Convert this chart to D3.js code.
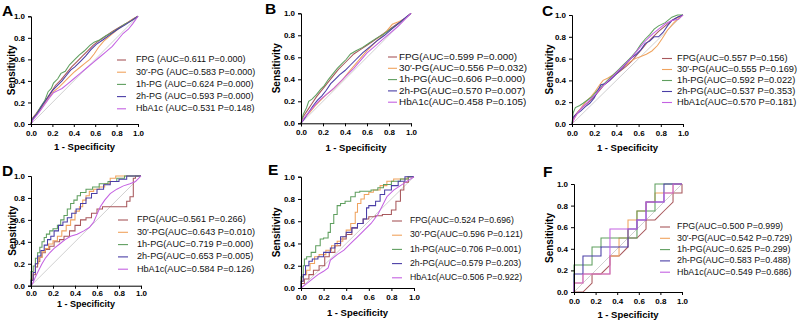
<!DOCTYPE html>
<html><head><meta charset="utf-8">
<script src="https://cdn.jsdelivr.net/npm/d3@7"></script>
<style>body{margin:0;background:#fff} svg{display:block;font-family:"Liberation Sans",Arial,sans-serif}</style>
</head><body><svg id="c" width="800" height="323"></svg>
<script>
const seriesNames = ["FPG","30′-PG","1h-PG","2h-PG","HbA1c"];
const seriesColors = ["#a8585c","#f0a35e","#5f9f5f","#4a3ea6","#c462e2"];
const panelLetters = ["A","B","C","D","E","F"];
const tickValues = [0,0.2,0.4,0.6,0.8,1.0];

const aucA = ["0.611","0.583","0.624","0.593","0.531"], pA = ["0.000","0.000","0.000","0.000","0.148"];
const aucB = ["0.599","0.556","0.606","0.570","0.458"], pB = ["0.000","0.032","0.000","0.007","0.105"];
const aucC = ["0.557","0.555","0.592","0.537","0.570"], pC = ["0.156","0.169","0.022","0.353","0.181"];
const aucD = ["0.561","0.643","0.719","0.653","0.584"], pD = ["0.266","0.010","0.000","0.005","0.126"];
const aucE = ["0.524","0.596","0.706","0.579","0.506"], pE = ["0.696","0.121","0.001","0.203","0.922"];
const aucF = ["0.500","0.542","0.625","0.583","0.549"], pF = ["0.999","0.729","0.299","0.488","0.686"];

// ROC curves: [1 - specificity, sensitivity]
const A_FPG = [[0,0],[0.01,0.05],[0.05,0.10],[0.10,0.17],[0.15,0.24],[0.19,0.30],[0.23,0.36],[0.28,0.41],[0.33,0.47],[0.38,0.53],[0.43,0.58],[0.48,0.63],[0.53,0.68],[0.58,0.73],[0.63,0.77],[0.69,0.81],[0.76,0.86],[0.83,0.90],[0.90,0.94],[0.96,0.98],[1,1]];
const A_30 = [[0,0],[0.02,0.05],[0.07,0.11],[0.12,0.18],[0.17,0.25],[0.21,0.30],[0.26,0.34],[0.30,0.38],[0.35,0.43],[0.40,0.48],[0.45,0.52],[0.50,0.56],[0.55,0.60],[0.59,0.65],[0.63,0.71],[0.68,0.77],[0.74,0.82],[0.80,0.87],[0.87,0.92],[0.93,0.96],[1,1]];
const A_1h = [[0,0],[0.01,0.04],[0.05,0.09],[0.09,0.16],[0.13,0.22],[0.16,0.30],[0.19,0.33],[0.21,0.38],[0.25,0.42],[0.28,0.47],[0.32,0.49],[0.36,0.55],[0.41,0.60],[0.45,0.64],[0.50,0.68],[0.55,0.73],[0.59,0.76],[0.64,0.78],[0.70,0.82],[0.76,0.85],[0.82,0.89],[0.88,0.93],[0.94,0.96],[1,1]];
const A_2h = [[0,0],[0.02,0.05],[0.06,0.10],[0.11,0.18],[0.16,0.25],[0.20,0.31],[0.25,0.36],[0.29,0.40],[0.33,0.45],[0.37,0.50],[0.41,0.53],[0.46,0.58],[0.51,0.63],[0.56,0.69],[0.61,0.74],[0.67,0.78],[0.74,0.83],[0.81,0.88],[0.88,0.92],[0.94,0.96],[1,1]];
const A_Hb = [[0,0],[0.02,0.04],[0.07,0.10],[0.12,0.17],[0.17,0.24],[0.21,0.29],[0.25,0.31],[0.29,0.33],[0.34,0.37],[0.40,0.42],[0.46,0.47],[0.52,0.52],[0.58,0.57],[0.64,0.62],[0.70,0.67],[0.76,0.72],[0.81,0.78],[0.86,0.84],[0.91,0.88],[0.95,0.93],[1,1]];

const B_FPG = [[0,0],[0.02,0.06],[0.06,0.12],[0.10,0.18],[0.14,0.24],[0.18,0.29],[0.22,0.34],[0.26,0.39],[0.30,0.44],[0.34,0.49],[0.38,0.53],[0.43,0.58],[0.48,0.63],[0.54,0.67],[0.60,0.71],[0.66,0.75],[0.73,0.80],[0.80,0.85],[0.87,0.90],[0.94,0.95],[1,1]];
const B_30 = [[0,0],[0.03,0.05],[0.08,0.10],[0.13,0.16],[0.18,0.21],[0.23,0.26],[0.28,0.30],[0.33,0.35],[0.38,0.40],[0.43,0.46],[0.48,0.52],[0.54,0.59],[0.60,0.66],[0.66,0.72],[0.72,0.78],[0.78,0.84],[0.83,0.90],[0.88,0.92],[0.94,0.95],[1,1]];
const B_1h = [[0,0],[0.02,0.08],[0.05,0.14],[0.07,0.20],[0.10,0.22],[0.14,0.26],[0.18,0.31],[0.21,0.34],[0.25,0.40],[0.29,0.45],[0.33,0.50],[0.37,0.54],[0.41,0.58],[0.45,0.63],[0.50,0.66],[0.56,0.69],[0.62,0.73],[0.68,0.77],[0.75,0.81],[0.82,0.86],[0.88,0.90],[0.94,0.95],[1,1]];
const B_2h = [[0,0],[0.03,0.04],[0.07,0.10],[0.11,0.16],[0.15,0.21],[0.19,0.25],[0.23,0.30],[0.27,0.36],[0.31,0.40],[0.35,0.44],[0.40,0.48],[0.45,0.53],[0.50,0.58],[0.56,0.64],[0.62,0.69],[0.69,0.75],[0.76,0.80],[0.83,0.86],[0.90,0.92],[0.96,0.97],[1,1]];
const B_Hb = [[0,0],[0.03,0.05],[0.08,0.11],[0.13,0.17],[0.18,0.22],[0.24,0.27],[0.30,0.32],[0.36,0.38],[0.42,0.44],[0.48,0.50],[0.54,0.57],[0.60,0.64],[0.67,0.70],[0.74,0.76],[0.81,0.82],[0.88,0.88],[0.94,0.94],[1,1]];

const C_FPG = [[0,0],[0.02,0.07],[0.06,0.12],[0.10,0.16],[0.15,0.20],[0.20,0.25],[0.25,0.31],[0.29,0.36],[0.34,0.40],[0.39,0.45],[0.44,0.49],[0.49,0.53],[0.54,0.58],[0.59,0.64],[0.64,0.70],[0.68,0.75],[0.73,0.80],[0.78,0.85],[0.84,0.90],[0.90,0.95],[0.95,0.98],[1,1]];
const C_30 = [[0,0],[0.02,0.05],[0.05,0.10],[0.09,0.16],[0.13,0.21],[0.17,0.25],[0.21,0.30],[0.25,0.36],[0.28,0.40],[0.32,0.42],[0.37,0.45],[0.42,0.49],[0.47,0.53],[0.52,0.57],[0.57,0.60],[0.62,0.62],[0.67,0.64],[0.72,0.67],[0.77,0.72],[0.81,0.78],[0.86,0.86],[0.91,0.92],[0.96,0.97],[1,1]];
const C_1h = [[0,0],[0.01,0.10],[0.03,0.15],[0.07,0.17],[0.10,0.19],[0.14,0.22],[0.18,0.25],[0.22,0.30],[0.26,0.34],[0.30,0.38],[0.34,0.42],[0.38,0.46],[0.42,0.50],[0.46,0.54],[0.50,0.58],[0.54,0.62],[0.58,0.67],[0.62,0.73],[0.66,0.78],[0.70,0.82],[0.74,0.87],[0.78,0.90],[0.84,0.93],[0.90,0.98],[0.95,1.0],[1,1]];
const C_2h = [[0,0],[0.01,0.06],[0.04,0.09],[0.08,0.12],[0.12,0.16],[0.16,0.19],[0.20,0.24],[0.23,0.30],[0.26,0.36],[0.30,0.37],[0.34,0.40],[0.38,0.44],[0.42,0.48],[0.46,0.52],[0.50,0.57],[0.54,0.61],[0.58,0.64],[0.62,0.68],[0.66,0.74],[0.70,0.76],[0.74,0.80],[0.78,0.80],[0.82,0.84],[0.86,0.90],[0.90,0.95],[0.95,0.98],[1,1]];
const C_Hb = [[0,0],[0.02,0.05],[0.05,0.10],[0.09,0.15],[0.13,0.19],[0.17,0.23],[0.21,0.27],[0.25,0.32],[0.29,0.36],[0.33,0.40],[0.37,0.44],[0.41,0.48],[0.45,0.52],[0.49,0.56],[0.53,0.60],[0.57,0.65],[0.61,0.70],[0.65,0.75],[0.69,0.79],[0.73,0.83],[0.78,0.87],[0.84,0.92],[0.90,0.95],[0.96,0.96],[1,1]];

const D_FPG = [[0,0],[0.02,0.05],[0.04,0.10],[0.06,0.17],[0.08,0.22],[0.10,0.26],[0.13,0.30],[0.17,0.33],[0.21,0.36],[0.26,0.40],[0.30,0.42],[0.35,0.45],[0.40,0.50],[0.45,0.55],[0.50,0.60],[0.55,0.62],[0.60,0.66],[0.65,0.70],[0.72,0.72],[0.87,0.72],[0.90,0.77],[0.93,0.81],[0.95,0.98],[1,1]];
const D_30 = [[0,0],[0.02,0.06],[0.04,0.12],[0.07,0.20],[0.10,0.26],[0.13,0.31],[0.16,0.34],[0.20,0.38],[0.24,0.41],[0.28,0.45],[0.32,0.50],[0.36,0.55],[0.40,0.60],[0.44,0.68],[0.47,0.72],[0.50,0.78],[0.53,0.82],[0.57,0.86],[0.62,0.88],[0.67,0.90],[0.72,0.93],[0.77,0.98],[0.85,1.0],[1,1]];
const D_1h = [[0,0],[0,0.10],[0.02,0.13],[0.04,0.18],[0.06,0.25],[0.08,0.30],[0.10,0.35],[0.12,0.40],[0.14,0.44],[0.17,0.47],[0.20,0.50],[0.24,0.52],[0.27,0.55],[0.30,0.60],[0.33,0.64],[0.36,0.70],[0.39,0.75],[0.42,0.78],[0.45,0.82],[0.50,0.85],[0.56,0.88],[0.62,0.90],[0.70,0.93],[0.78,0.95],[0.85,0.98],[0.92,1.0],[1,1]];
const D_2h = [[0,0],[0.02,0.05],[0.04,0.12],[0.06,0.20],[0.09,0.27],[0.12,0.32],[0.15,0.37],[0.18,0.42],[0.21,0.45],[0.25,0.50],[0.29,0.55],[0.33,0.58],[0.37,0.62],[0.41,0.66],[0.45,0.70],[0.50,0.75],[0.55,0.80],[0.60,0.84],[0.66,0.88],[0.72,0.92],[0.80,0.95],[0.87,0.97],[0.93,1.0],[1,1]];
const D_Hb = [[0,0],[0.02,0.03],[0.04,0.08],[0.07,0.14],[0.10,0.20],[0.13,0.25],[0.17,0.30],[0.21,0.34],[0.26,0.38],[0.31,0.42],[0.36,0.45],[0.42,0.47],[0.48,0.50],[0.53,0.53],[0.57,0.58],[0.60,0.65],[0.63,0.72],[0.67,0.78],[0.72,0.84],[0.78,0.88],[0.84,0.91],[0.90,0.93],[0.95,0.95],[1,1]];

const E_FPG = [[0,0],[0.03,0.04],[0.07,0.08],[0.11,0.12],[0.16,0.16],[0.21,0.20],[0.25,0.28],[0.30,0.32],[0.35,0.38],[0.40,0.44],[0.45,0.48],[0.50,0.54],[0.55,0.58],[0.60,0.62],[0.66,0.64],[0.72,0.65],[0.80,0.66],[0.84,0.70],[0.88,0.78],[0.91,0.88],[0.95,0.95],[1,1]];
const E_30 = [[0,0],[0.02,0.06],[0.05,0.12],[0.08,0.16],[0.12,0.22],[0.16,0.28],[0.22,0.30],[0.27,0.34],[0.32,0.38],[0.37,0.42],[0.40,0.46],[0.44,0.52],[0.48,0.58],[0.50,0.68],[0.53,0.76],[0.56,0.80],[0.60,0.84],[0.64,0.86],[0.70,0.88],[0.76,0.92],[0.82,0.96],[0.88,0.98],[0.94,0.98],[1,1]];
const E_1h = [[0,0],[0,0.05],[0.02,0.10],[0.03,0.20],[0.05,0.26],[0.09,0.28],[0.13,0.32],[0.17,0.38],[0.20,0.44],[0.24,0.45],[0.26,0.50],[0.29,0.58],[0.32,0.66],[0.35,0.74],[0.39,0.76],[0.44,0.78],[0.48,0.82],[0.52,0.86],[0.62,0.87],[0.68,0.88],[0.73,0.90],[0.80,0.93],[0.88,0.96],[0.95,0.98],[1,1]];
const E_2h = [[0,0],[0.02,0.06],[0.04,0.12],[0.07,0.20],[0.10,0.24],[0.15,0.26],[0.20,0.28],[0.26,0.32],[0.30,0.36],[0.35,0.40],[0.40,0.46],[0.45,0.50],[0.50,0.54],[0.55,0.58],[0.58,0.62],[0.60,0.72],[0.66,0.74],[0.70,0.78],[0.74,0.84],[0.80,0.88],[0.86,0.92],[0.92,0.96],[0.96,1.0],[1,1]];
const E_Hb = [[0,0],[0.05,0.04],[0.10,0.08],[0.15,0.12],[0.20,0.15],[0.24,0.18],[0.26,0.25],[0.32,0.30],[0.38,0.34],[0.44,0.40],[0.50,0.46],[0.56,0.52],[0.62,0.58],[0.68,0.66],[0.72,0.74],[0.76,0.82],[0.82,0.88],[0.88,0.92],[0.94,0.96],[1,1]];

const F_FPG = [[0,0],[0.083,0],[0.167,0.083],[0.167,0.167],[0.25,0.167],[0.333,0.25],[0.333,0.333],[0.417,0.333],[0.5,0.417],[0.5,0.5],[0.583,0.5],[0.667,0.583],[0.667,0.667],[0.75,0.667],[0.833,0.75],[0.917,0.833],[0.917,0.917],[1,0.917],[1,1]];
const F_30 = [[0,0],[0,0.083],[0.083,0.083],[0.083,0.167],[0.333,0.167],[0.333,0.333],[0.417,0.333],[0.417,0.5],[0.5,0.5],[0.5,0.667],[0.583,0.667],[0.583,0.75],[0.667,0.75],[0.667,0.833],[0.75,0.833],[0.75,0.917],[0.917,0.917],[0.917,1],[1,1]];
const F_1h = [[0,0],[0,0.25],[0.167,0.25],[0.167,0.417],[0.25,0.417],[0.25,0.5],[0.583,0.5],[0.583,0.75],[0.75,0.75],[0.75,1],[1,1]];
const F_2h = [[0,0],[0,0.167],[0.083,0.167],[0.083,0.333],[0.25,0.333],[0.25,0.417],[0.5,0.417],[0.5,0.583],[0.583,0.583],[0.583,0.667],[0.667,0.667],[0.667,0.833],[0.833,0.833],[0.833,1],[1,1]];
const F_Hb = [[0,0],[0,0.083],[0.083,0.083],[0.083,0.167],[0.333,0.167],[0.333,0.583],[0.583,0.583],[0.583,0.667],[0.667,0.667],[0.667,0.833],[0.833,0.833],[0.833,0.917],[0.917,0.917],[0.917,1],[1,1]];

const panelCurves = [
  [A_FPG,A_30,A_1h,A_2h,A_Hb],[B_FPG,B_30,B_1h,B_2h,B_Hb],[C_FPG,C_30,C_1h,C_2h,C_Hb],
  [D_FPG,D_30,D_1h,D_2h,D_Hb],[E_FPG,E_30,E_1h,E_2h,E_Hb],[F_FPG,F_30,F_1h,F_2h,F_Hb]];
const panelAuc = [aucA,aucB,aucC,aucD,aucE,aucF];
const panelP = [pA,pB,pC,pD,pE,pF];

// layout (pixels)
const layout = [
  {x0:31, x1:138, yT:16.3, yB:124, ylx:12, xly:147, tp:3, xfs:9.5, lx1:117, lx2:126, tx:136, ly:60, dy:12.2, fs:9.0, sep:" ", lX:2, lY:15.5, step:false},
  {x0:301,x1:411, yT:13.3, yB:123.3, ylx:277, xly:148, tp:3, xfs:9.5, lx1:388, lx2:397, tx:399, ly:57, dy:11.3, fs:9.9, sep:"", lX:265, lY:13.5, step:false},
  {x0:572,x1:683, yT:15, yB:124, ylx:550, xly:148, tp:3, xfs:9.5, lx1:662, lx2:672, tx:677, ly:58.5, dy:11, fs:9.25, sep:"", lX:542, lY:15.5, step:false},
  {x0:31, x1:141, yT:176, yB:285.7, ylx:13, xly:305, tp:2, xfs:9, lx1:118, lx2:128, tx:137, ly:220, dy:12.3, fs:9.1, sep:"", lX:2, lY:175.5, step:true},
  {x0:301,x1:414, yT:176.7, yB:288, ylx:277, xly:313, tp:3, xfs:9.5, lx1:392, lx2:402, tx:410, ly:221, dy:14.2, fs:8.7, sep:"", lX:268, lY:175, step:true},
  {x0:574,x1:682, yT:184, yB:292, ylx:550, xly:315, tp:3, xfs:9.5, lx1:660, lx2:670, tx:677, ly:227, dy:11.3, fs:8.9, sep:"", lX:543, lY:177, step:false}
];

const svg = d3.select("#c");
svg.append("rect").attr("width",800).attr("height",323).attr("fill","#fff");

layout.forEach((L, pi) => {
  const g = svg.append("g");
  const x = d3.scaleLinear().domain([0,1]).range([L.x0, L.x1]);
  const y = d3.scaleLinear().domain([0,1]).range([L.yB, L.yT]);

  g.append("line").attr("x1",x(0)).attr("y1",y(0)).attr("x2",x(1)).attr("y2",y(1))
    .attr("stroke","#c4c4c4").attr("stroke-width",0.8);

  panelCurves[pi].forEach((pts, si) => {
    const curve = (L.step && si !== 4) ? d3.curveStepBefore : d3.curveLinear;
    const line = d3.line().x(d => x(d[0])).y(d => y(d[1])).curve(curve);
    g.append("path").datum(pts).attr("d", line).attr("fill","none")
      .attr("stroke", seriesColors[si]).attr("stroke-width",1.05).attr("stroke-linejoin","miter");
  });

  const fmt = d3.format(".1f");
  const ax = g.append("g").attr("transform",`translate(0,${L.yB})`)
    .call(d3.axisBottom(x).tickValues(tickValues).tickFormat(fmt).tickSize(3).tickPadding(L.tp));
  const ay = g.append("g").attr("transform",`translate(${L.x0},0)`)
    .call(d3.axisLeft(y).tickValues(tickValues).tickFormat(fmt).tickSize(3).tickPadding(3));
  [ax, ay].forEach(a => {
    a.select(".domain").attr("stroke","#000").attr("stroke-width",1);
    a.selectAll(".tick line").attr("stroke","#000").attr("stroke-width",1);
    a.selectAll("text").attr("font-family","'Liberation Sans',Arial,sans-serif")
      .attr("font-size",8).attr("font-weight","bold").attr("fill","#000");
  });

  g.append("text").attr("x",(L.x0+L.x1)/2).attr("y",L.xly).attr("text-anchor","middle")
    .attr("dominant-baseline","middle").attr("font-size",L.xfs).attr("font-weight","bold")
    .text("1 - Specificity");
  g.append("text").attr("transform",`translate(${L.ylx},${(L.yT+L.yB)/2}) rotate(-90)`)
    .attr("text-anchor","middle").attr("dominant-baseline","middle")
    .attr("font-size",10).attr("font-weight","bold").text("Sensitivity");

  g.append("text").attr("x",L.lX).attr("y",L.lY).attr("font-size",15.5).attr("font-weight","bold")
    .text(panelLetters[pi]);

  seriesNames.forEach((nm, si) => {
    const yy = L.ly + si*L.dy;
    g.append("line").attr("x1",L.lx1).attr("x2",L.lx2).attr("y1",yy).attr("y2",yy)
      .attr("stroke",seriesColors[si]).attr("stroke-width",1.1);
    g.append("text").attr("x",L.tx).attr("y",yy).attr("dominant-baseline","middle")
      .attr("font-size",L.fs).attr("fill","#111")
      .text(`${nm}${L.sep}(AUC=${panelAuc[pi][si]} P=${panelP[pi][si]})`);
  });
});
</script></body></html>
